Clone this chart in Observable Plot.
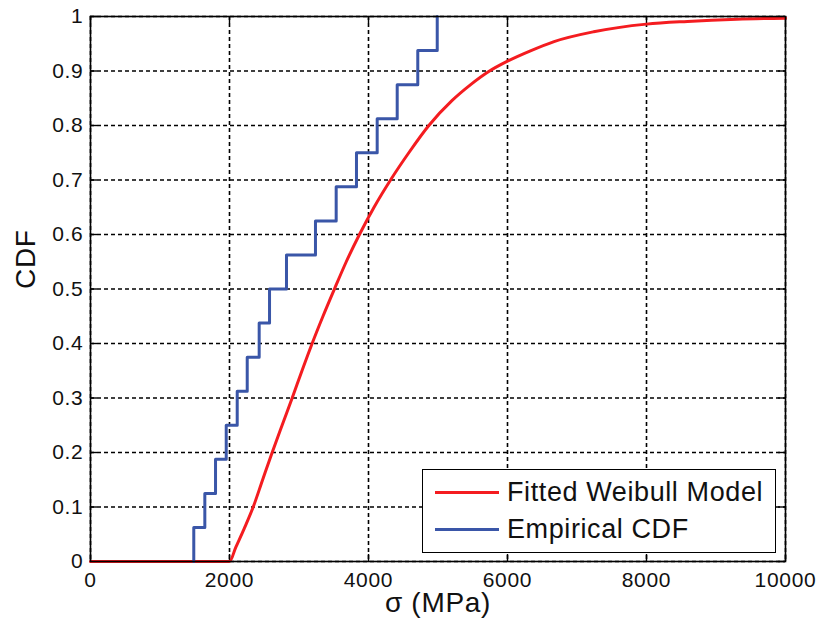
<!DOCTYPE html>
<html><head><meta charset="utf-8">
<script src="https://cdn.jsdelivr.net/npm/d3@7"></script>
<script src="https://cdn.jsdelivr.net/npm/@observablehq/plot@0.6"></script>
<style>
body{margin:0;background:#fff;}
#wrap{position:relative;width:820px;height:635px;font-family:"Liberation Sans",Arial,sans-serif;}
#wrap svg text{letter-spacing:0.7px;}
#legend{position:absolute;left:422px;top:469px;width:352px;height:82px;border:1.5px solid #000;background:#fff;}
.row{position:absolute;left:0;height:30px;display:flex;align-items:center;}
.sw{width:64px;height:3px;margin-left:12px;margin-right:8px;}
.lab{font-size:27px;letter-spacing:0.6px;color:#111;white-space:nowrap;}
</style></head><body><div id="wrap"><div id="chart"></div>
<div id="legend">
  <div class="row" style="top:7px"><div class="sw" id="sw0"></div><span class="lab" id="lab0"></span></div>
  <div class="row" style="top:44px"><div class="sw" id="sw1"></div><span class="lab" id="lab1"></span></div>
</div></div>
<script>
// Series names
const seriesNames = ["Fitted Weibull Model", "Empirical CDF"];
const seriesColors = ["#f41c20", "#3a56a8"];

// Empirical CDF: jump locations (MPa) and CDF levels
const ecdfX = [1486, 1645, 1799, 1953, 2111, 2255, 2427, 2576, 2820, 3237, 3535, 3827, 4125, 4413, 4709, 4989];
const ecdfF = [0.0625, 0.125, 0.1875, 0.25, 0.3125, 0.375, 0.4375, 0.5, 0.5625, 0.625, 0.6875, 0.75, 0.8125, 0.875, 0.9375, 1.0];

// Fitted Weibull model curve
const fitX = [0, 2000, 2090, 2210, 2341, 2477, 2614, 2757, 2902, 3043, 3189, 3345, 3510, 3680, 3870, 4080, 4317, 4580, 4868, 5204, 5470, 5730, 6000, 6330, 6670, 7240, 8000, 8590, 9300, 10000];
const fitF = [0, 0, 0.026, 0.06, 0.1, 0.15, 0.2, 0.25, 0.3, 0.35, 0.4, 0.45, 0.5, 0.55, 0.6, 0.65, 0.7, 0.75, 0.8, 0.846, 0.875, 0.899, 0.918, 0.937, 0.954, 0.972, 0.986, 0.991, 0.995, 0.997];

// Axes
const xTicks = [0, 2000, 4000, 6000, 8000, 10000];
const xTickLabels = ["0", "2000", "4000", "6000", "8000", "10000"];
const yTicks = [0, 0.1, 0.2, 0.3, 0.4, 0.5, 0.6, 0.7, 0.8, 0.9, 1];
const yTickLabels = ["0", "0.1", "0.2", "0.3", "0.4", "0.5", "0.6", "0.7", "0.8", "0.9", "1"];
const xTitle = "σ (MPa)";
const yTitle = "CDF";

const ecdfPts = [{x: ecdfX[0], y: 0}, ...ecdfX.map((x, i) => ({x, y: ecdfF[i]}))];
const fitPts = fitX.map((x, i) => ({x, y: fitF[i]}));

const W = 820, H = 635, ML = 90, MR = 35, MT = 16, MB = 74;
const plotH = H - MT - MB, plotW = W - ML - MR, tk = 7;

const chart = Plot.plot({
  width: W, height: H,
  marginLeft: ML, marginRight: MR, marginTop: MT, marginBottom: MB,
  style: {fontFamily: '"Liberation Sans", Arial, sans-serif', color: "#111", background: "#fff", overflow: "visible"},
  x: {domain: [0, 10000]},
  y: {domain: [0, 1]},
  marks: [
    Plot.gridX(xTicks, {stroke: "#000", strokeOpacity: 1, strokeWidth: 1.6, strokeDasharray: "4,3"}),
    Plot.gridY(yTicks, {stroke: "#000", strokeOpacity: 1, strokeWidth: 1.6, strokeDasharray: "4,3"}),
    // inward tick marks on all four sides
    Plot.tickX(xTicks, {x: d => d, insetTop: plotH - tk, stroke: "#000", strokeWidth: 1.4}),
    Plot.tickX(xTicks, {x: d => d, insetBottom: plotH - tk, stroke: "#000", strokeWidth: 1.4}),
    Plot.tickY(yTicks, {y: d => d, insetRight: plotW - tk, stroke: "#000", strokeWidth: 1.4}),
    Plot.tickY(yTicks, {y: d => d, insetLeft: plotW - tk, stroke: "#000", strokeWidth: 1.4}),
    Plot.axisX(xTicks, {tickSize: 0, tickPadding: 11, fontSize: 21, tickFormat: (d, i) => xTickLabels[i], label: null}),
    Plot.axisY(yTicks, {tickSize: 0, tickPadding: 7, fontSize: 21, tickFormat: (d, i) => yTickLabels[i], label: null}),
    Plot.line(fitPts, {x: "x", y: "y", stroke: seriesColors[0], strokeWidth: 3, curve: "monotone-x"}),
    Plot.line(ecdfPts, {x: "x", y: "y", stroke: seriesColors[1], strokeWidth: 3, curve: "step-after"}),
    Plot.frame({stroke: "#000", strokeWidth: 1.6}),
    Plot.text([xTitle], {frameAnchor: "bottom", dy: 50, fontSize: 28, fill: "#111"}),
    Plot.text([yTitle], {frameAnchor: "left", dx: -64, rotate: -90, fontSize: 28, fill: "#111"})
  ]
});
document.getElementById("chart").appendChild(chart);
for (let i = 0; i < 2; i++) {
  document.getElementById("sw" + i).style.background = seriesColors[i];
  document.getElementById("lab" + i).textContent = seriesNames[i];
}
</script></body></html>
